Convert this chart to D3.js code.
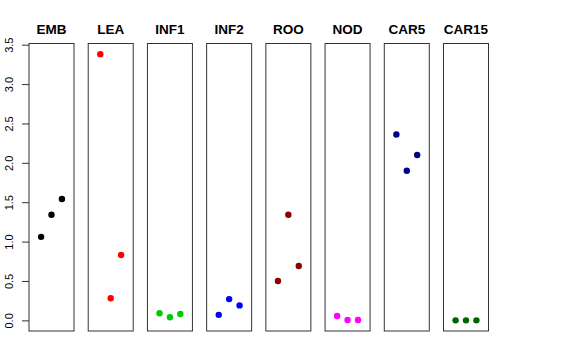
<!DOCTYPE html>
<html>
<head>
<meta charset="utf-8">
<script src="https://cdn.jsdelivr.net/npm/d3@7"></script>
<style>
  body { margin: 0; background: #fff; }
  text { font-family: "Liberation Sans", Arial, sans-serif; }
</style>
</head>
<body>
<div id="chart"></div>
<script>
// tissues, one panel each
const tissues = ["EMB", "LEA", "INF1", "INF2", "ROO", "NOD", "CAR5", "CAR15"];
const colors = ["#000000", "#ff0000", "#00cd00", "#0000ff", "#8b0000", "#ff00ff", "#00008b", "#006400"];

// three replicate values per tissue
const EMB = [1.06, 1.34, 1.54];
const LEA = [3.38, 0.28, 0.83];
const INF1 = [0.09, 0.04, 0.08];
const INF2 = [0.07, 0.27, 0.19];
const ROO = [0.50, 1.34, 0.69];
const NOD = [0.055, 0.005, 0.005];
const CAR5 = [2.36, 1.90, 2.10];
const CAR15 = [0.0, 0.0, 0.0];
const values = [EMB, LEA, INF1, INF2, ROO, NOD, CAR5, CAR15];

const yTicks = [0, 0.5, 1, 1.5, 2, 2.5, 3, 3.5];

const w = 576;
const h = 360;
const plotTop = 43.5;
const plotBottom = 331;

const svg = d3.select("#chart")
  .append("svg")
  .attr("width", w)
  .attr("height", h);

const xBand = d3.scaleBand()
  .domain(tissues)
  .range([29, 488.5])
  .paddingInner(0.24)
  .paddingOuter(0);

// R-style 4% padding around 0..3.38
const yScale = d3.scaleLinear()
  .domain([-0.135, 3.515])
  .range([plotBottom, plotTop]);

const xInner = d3.scaleLinear()
  .domain([-0.16, 4.16])
  .range([0, xBand.bandwidth()]);

const panels = svg.selectAll(".panel")
  .data(tissues)
  .enter()
  .append("g")
  .attr("class", "panel")
  .attr("transform", (d) => `translate(${xBand(d)},0)`);

panels.append("rect")
  .attr("x", 0)
  .attr("y", plotTop)
  .attr("width", xBand.bandwidth())
  .attr("height", plotBottom - plotTop)
  .attr("fill", "none")
  .attr("stroke", "#333")
  .attr("stroke-width", 1);

panels.append("text")
  .attr("x", xBand.bandwidth() / 2)
  .attr("y", 34)
  .attr("text-anchor", "middle")
  .style("font-size", "13.5px")
  .style("font-weight", "bold")
  .text((d) => d);

panels.selectAll("circle")
  .data((d, i) => values[i].map((v, j) => ({ v: v, j: j + 1, c: colors[i] })))
  .enter()
  .append("circle")
  .attr("cx", (d) => xInner(d.j))
  .attr("cy", (d) => yScale(d.v))
  .attr("r", 3.2)
  .attr("fill", (d) => d.c);

// y axis on the first panel
const yAxis = d3.axisLeft(yScale)
  .tickValues(yTicks)
  .tickFormat(d3.format(".1f"))
  .tickSize(7);

const ax = svg.append("g")
  .attr("transform", `translate(${xBand(tissues[0])},0)`)
  .call(yAxis);

ax.select(".domain").remove();
ax.selectAll(".tick line").attr("stroke", "#333");
ax.selectAll(".tick text")
  .attr("x", 0)
  .attr("dy", 0)
  .attr("transform", "translate(-16,0) rotate(-90)")
  .attr("text-anchor", "middle")
  .attr("fill", "#000")
  .style("font-family", "Liberation Sans, Arial, sans-serif")
  .style("font-size", "11px");
</script>
</body>
</html>
